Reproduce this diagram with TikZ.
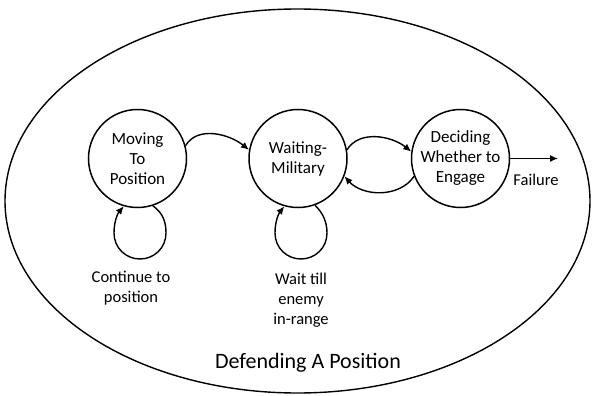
\documentclass[tikz,border=0pt]{standalone}
\usepackage{fontspec}
\setmainfont{Carlito}
\usetikzlibrary{arrows.meta}
\begin{document}
\begin{tikzpicture}[x=1pt,y=-1pt,
  state/.style={draw,circle,line width=1.5pt,minimum size=98pt,inner sep=0pt,align=center,font=\fontsize{17}{20}\selectfont},
  lbl/.style={align=center,inner sep=0pt,font=\fontsize{16.5}{20}\selectfont},
  arr/.style={line width=1.4pt,-{Latex[length=8pt,width=7pt]}}]
\useasboundingbox (0,0) rectangle (592,396);
\draw[line width=1.4pt] (297.5,201) ellipse [x radius=292.5, y radius=192];
\node[state] (m) at (137.5,158.5) {Moving\\To\\Position};
\node[state] (w) at (298,158.5) {Waiting-\\Military};
\node[state] (d) at (460.5,158.5) {Deciding\\Whether to\\Engage};
\coordinate (fend) at (558,158.5);
\draw[arr] (m.15) .. controls +(12,-20) and +(-20,-16) .. (w.170);
\draw[arr] (w.10) .. controls +(12,-20) and +(-20,-16) .. (d.172);
\draw[arr] (d.201) .. controls +(-15,22) and +(18,20) .. (w.339);
\draw[arr] (d) -- (fend);
\draw[arr] (m.288) .. controls (163,213) and (166,222) .. (166,233) .. controls (166,248) and (154,259) .. (140,259) .. controls (126,259) and (114,248) .. (114,233) .. controls (114,221) and (118,213) .. (m.254);
\draw[arr] (w.290) .. controls (323,213) and (327,222) .. (327,233) .. controls (327,248) and (315,259) .. (301,259) .. controls (287,259) and (275,248) .. (275,233) .. controls (275,221) and (279,213) .. (w.254);
\node[lbl] (l1) at (131,288) {Continue to\\position};
\node[lbl] (l2) at (301,300) {Wait till\\enemy\\in-range};
\node[lbl] (l3) at (536,180) {Failure};
\node[inner sep=0pt,font=\fontsize{22}{26}\selectfont] (title) at (308,363) {Defending A Position};
\end{tikzpicture}
\end{document}
